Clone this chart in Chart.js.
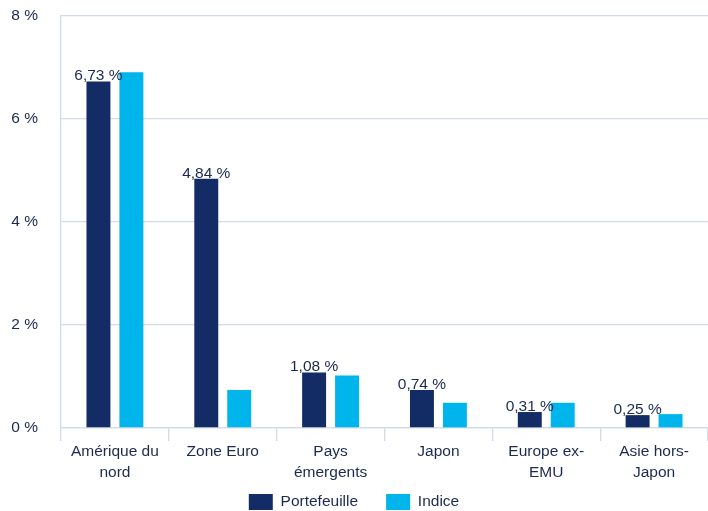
<!DOCTYPE html>
<html>
<head>
<meta charset="utf-8">
<script src="https://cdn.jsdelivr.net/npm/chart.js@4.4.0/dist/chart.umd.min.js"></script>
<style>
  html, body { margin: 0; padding: 0; background: #fff; }
  #wrap { width: 708px; height: 511px; position: relative; }
</style>
</head>
<body>
<div id="wrap"><canvas id="chart"></canvas></div>
<script>
// Régions et poids (%)
const regions = [['Amérique du', 'nord'], ['Zone Euro'], ['Pays', 'émergents'], ['Japon'], ['Europe ex-', 'EMU'], ['Asie hors-', 'Japon']];
const portefeuille = [6.73, 4.84, 1.08, 0.74, 0.31, 0.25];
const indice = [6.91, 0.74, 1.02, 0.49, 0.49, 0.27];
const seriesNames = ['Portefeuille', 'Indice'];
const yTicks = [0, 2, 4, 6, 8];

const navy = '#132c65';
const cyan = '#00b5ec';
const textColor = '#1b2a4e';
const gridColor = '#d2dbe7';
const fontFamily = '"Liberation Sans", Arial, Helvetica, sans-serif';

Chart.defaults.font.family = fontFamily;
Chart.defaults.font.size = 15;
Chart.defaults.color = textColor;

function fmt(v) {
    return v.toFixed(2).replace('.', ',') + ' %';
}

// Etiquettes de valeur au-dessus des barres "Portefeuille"
const valueLabels = {
    id: 'valueLabels',
    afterDatasetsDraw(chart) {
        const ctx = chart.ctx;
        const meta = chart.getDatasetMeta(0);
        ctx.save();
        ctx.font = '15.5px ' + fontFamily;
        ctx.fillStyle = textColor;
        ctx.textAlign = 'center';
        ctx.textBaseline = 'alphabetic';
        meta.data.forEach((bar, i) => {
            ctx.fillText(fmt(portefeuille[i]), bar.x, bar.y - 1);
        });
        ctx.restore();
    }
};

// Légende : espacement horizontal large mais hauteur réduite
const legendFix = {
    id: 'legendFix',
    afterInit(chart) {
        const legend = chart.legend;
        const origFit = legend.fit;
        legend.fit = function () {
            origFit.call(this);
            this.height = 28;
        };
    },
    afterLayout(chart) {
        const legend = chart.legend;
        legend.top = 466;
        legend.bottom = 511;
        legend.height = 45;
    }
};

new Chart(document.getElementById('chart'), {
    type: 'bar',
    data: {
        labels: regions,
        datasets: [{
            label: seriesNames[0],
            data: portefeuille,
            backgroundColor: navy,
            categoryPercentage: 0.611,
            barPercentage: 0.727
        }, {
            label: seriesNames[1],
            data: indice,
            backgroundColor: cyan,
            categoryPercentage: 0.611,
            barPercentage: 0.727
        }]
    },
    options: {
        responsive: true,
        maintainAspectRatio: false,
        animation: false,
        layout: { padding: { top: 16, right: 0, left: 0, bottom: 0 } },
        plugins: {
            legend: {
                position: 'bottom',
                labels: {
                    boxWidth: 24,
                    boxHeight: 16,
                    padding: 28,
                    color: textColor,
                    font: { size: 15.5 }
                }
            },
            tooltip: { enabled: false }
        },
        scales: {
            x: {
                grid: {
                    offset: true,
                    drawOnChartArea: false,
                    drawTicks: true,
                    tickLength: 13,
                    color: gridColor,
                    lineWidth: 1.3
                },
                border: { display: true, color: gridColor, width: 1.3 },
                ticks: {
                    color: textColor,
                    padding: 1,
                    maxRotation: 0,
                    autoSkip: false,
                    font: { size: 15.5, lineHeight: 1.3 }
                },
                afterFit(scale) { scale.height = 55; }
            },
            y: {
                min: 0,
                max: 8,
                afterBuildTicks(scale) {
                    scale.ticks = yTicks.map(v => ({ value: v }));
                },
                grid: {
                    drawTicks: true,
                    tickLength: 23,
                    tickColor: 'rgba(0,0,0,0)',
                    color: gridColor,
                    lineWidth: 1.3
                },
                border: { display: true, color: gridColor, width: 1.3 },
                ticks: {
                    color: textColor,
                    padding: 0,
                    font: { size: 15.5 },
                    callback: v => v + ' %'
                },
                afterFit(scale) { scale.width = 61; }
            }
        }
    },
    plugins: [valueLabels, legendFix]
});
</script>
</body>
</html>
